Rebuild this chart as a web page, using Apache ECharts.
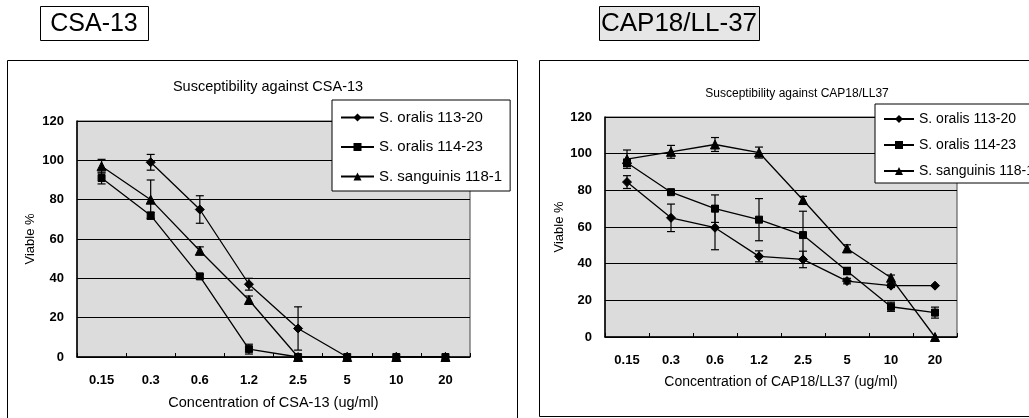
<!DOCTYPE html>
<html>
<head>
<meta charset="utf-8">
<script src="https://cdn.jsdelivr.net/npm/echarts@6/dist/echarts.min.js"></script>
<style>
html,body{margin:0;padding:0;background:#fff;}
#c{width:1029px;height:418px;}
</style>
</head>
<body>
<div id="c"></div>
<script>
// ---- data ----
const categories = ['0.15', '0.3', '0.6', '1.2', '2.5', '5', '10', '20'];
const seriesNames = ['S. oralis 113-20', 'S. oralis 114-23', 'S. sanguinis 118-1'];

// CSA-13 panel (viable %)
const csa_113_20 = [null, 99, 75, 37, 14.5, 0, 0, 0];
const csa_114_23 = [91, 72, 41, 4, 0, 0, 0, 0];
const csa_118_1  = [97, 80, 54, 29, 0, 0, 0, 0];
const csa_113_20_err = [null, 4, 7, 3, 11, 0, 0, 0];
const csa_114_23_err = [3, 1.5, 1, 2.5, 0, 0, 0, 0];
const csa_118_1_err  = [3.5, 10, 2, 2, 0, 0, 0, 0];

// CAP18/LL37 panel (viable %)
const cap_113_20 = [84.5, 65, 59.6, 44, 42.3, 30.5, 28, 28];
const cap_114_23 = [95, 79, 70, 64, 55.6, 36, 16.5, 13.3];
const cap_118_1  = [97, 101, 105, 100.6, 74.7, 48.3, 32.3, 0];
const cap_113_20_err = [3.5, 7.5, 12, 3, 4.5, 1.5, 1, 0];
const cap_114_23_err = [2, 1, 7.5, 11.5, 13, 2, 2.5, 3];
const cap_118_1_err  = [5, 3.5, 3.8, 3, 2, 2, 1.5, 0];

const yTicks = [0, 20, 40, 60, 80, 100, 120];

// ---- chart ----
const FONT = 'Liberation Sans, Arial, sans-serif';
const symbols = ['diamond', 'rect', 'triangle'];
const symbolSizes = [9, 7, 9];

function lineSeries(name, idx, data, gi) {
  return {
    type: 'line', name: name, xAxisIndex: gi, yAxisIndex: gi,
    data: data, symbol: symbols[idx], symbolSize: symbolSizes[idx],
    showSymbol: true, connectNulls: false, animation: false,
    lineStyle: { color: '#000', width: 1.3 },
    itemStyle: { color: '#000', borderColor: '#000' },
    z: 3
  };
}
function errSeries(vals, errs, gi) {
  const d = vals.map((v, i) => [i, v, errs[i]]);
  return {
    type: 'custom', xAxisIndex: gi, yAxisIndex: gi, animation: false, silent: true,
    data: d, encode: { x: 0, y: 1 }, z: 2,
    renderItem: function (params, api) {
      const v = api.value(1), e = api.value(2);
      if (v == null || isNaN(v) || !e) return null;
      const i = api.value(0);
      const top = api.coord([i, v + e]);
      const bot = api.coord([i, v - e]);
      const hw = 4;
      const st = { stroke: '#000', lineWidth: 1.2 };
      return {
        type: 'group', children: [
          { type: 'line', shape: { x1: top[0], y1: top[1], x2: bot[0], y2: bot[1] }, style: st },
          { type: 'line', shape: { x1: top[0] - hw, y1: top[1], x2: top[0] + hw, y2: top[1] }, style: st },
          { type: 'line', shape: { x1: bot[0] - hw, y1: bot[1], x2: bot[0] + hw, y2: bot[1] }, style: st }
        ]
      };
    }
  };
}

function xAxis(gi, name) {
  return {
    type: 'category', gridIndex: gi, data: categories, boundaryGap: true,
    axisLine: { show: true, lineStyle: { color: '#000', width: 1.5 } },
    axisTick: { show: true, inside: true, length: 4, lineStyle: { color: '#000' } },
    axisLabel: { color: '#000', fontSize: 13, fontWeight: 'bold', margin: 17, fontFamily: FONT },
    splitLine: { show: false },
    name: name, nameLocation: 'middle', nameGap: 38,
    nameTextStyle: { color: '#000', fontSize: gi === 0 ? 14.5 : 14, fontFamily: FONT }
  };
}
function yAxis(gi, gap) {
  return {
    type: 'value', gridIndex: gi, min: yTicks[0], max: yTicks[yTicks.length - 1], interval: yTicks[1] - yTicks[0],
    axisLine: { show: true, lineStyle: { color: '#000', width: 1.5 } },
    axisTick: { show: false },
    axisLabel: { color: '#000', fontSize: 13, fontWeight: 'bold', margin: 13, fontFamily: FONT },
    splitLine: { show: true, lineStyle: { color: '#000', width: 1.2 } },
    name: 'Viable %', nameLocation: 'middle', nameGap: gap,
    nameTextStyle: { color: '#000', fontSize: 13, fontFamily: FONT }
  };
}

const option = {
  animation: false,
  backgroundColor: '#fff',
  textStyle: { fontFamily: FONT },
  title: [
    { text: 'Susceptibility against CSA-13', left: 263, top: 74, textAlign: 'center',
      textStyle: { fontSize: 14.5, fontWeight: 'normal', color: '#000', fontFamily: FONT } },
    { text: 'Susceptibility against CAP18/LL37', left: 792, top: 83, textAlign: 'center',
      textStyle: { fontSize: 12, fontWeight: 'normal', color: '#000', fontFamily: FONT } }
  ],
  grid: [
    { left: 77, top: 121, width: 393, height: 236, show: true, backgroundColor: '#dcdcdc', borderColor: '#444', borderWidth: 1 },
    { left: 605, top: 117, width: 352, height: 220, show: true, backgroundColor: '#dcdcdc', borderColor: '#444', borderWidth: 1 }
  ],
  xAxis: [xAxis(0, 'Concentration of CSA-13 (ug/ml)'), xAxis(1, 'Concentration of CAP18/LL37 (ug/ml)')],
  yAxis: [yAxis(0, 40), yAxis(1, 39)],
  legend: [
    { data: seriesNames, orient: 'vertical', left: 332, top: 100, padding: [10, 8, 7, 8], itemGap: 14.5,
      itemWidth: 33, itemHeight: 10, backgroundColor: '#fff', borderColor: '#000', borderWidth: 1,
      textStyle: { color: '#000', fontSize: 15, fontFamily: FONT }, selectedMode: false },
    { data: seriesNames, orient: 'vertical', left: 875, top: 104, padding: [8, 8, 5, 8], itemGap: 12,
      itemWidth: 30, itemHeight: 10, backgroundColor: '#fff', borderColor: '#000', borderWidth: 1,
      textStyle: { color: '#000', fontSize: 14, fontFamily: FONT }, selectedMode: false }
  ],
  graphic: [
    { type: 'rect', shape: { x: 7.5, y: 60.5, width: 510, height: 380 }, style: { fill: 'none', stroke: '#000', lineWidth: 1 }, silent: true, z: -10 },
    { type: 'rect', shape: { x: 539.5, y: 60.5, width: 520, height: 356 }, style: { fill: 'none', stroke: '#000', lineWidth: 1 }, silent: true, z: -10 },
    { type: 'rect', shape: { x: 40.5, y: 6.5, width: 108, height: 34 }, style: { fill: '#fff', stroke: '#000', lineWidth: 1 }, silent: true },
    { type: 'text', x: 94, y: 24, style: { text: 'CSA-13', fill: '#000', font: '25px ' + FONT, textAlign: 'center', textVerticalAlign: 'middle' }, silent: true },
    { type: 'rect', shape: { x: 599.5, y: 6.5, width: 160, height: 34 }, style: { fill: '#e6e6e6', stroke: '#000', lineWidth: 1 }, silent: true },
    { type: 'text', x: 679, y: 24, style: { text: 'CAP18/LL-37', fill: '#000', font: '26px ' + FONT, textAlign: 'center', textVerticalAlign: 'middle' }, silent: true }
  ],
  series: [
    errSeries(csa_113_20, csa_113_20_err, 0),
    errSeries(csa_114_23, csa_114_23_err, 0),
    errSeries(csa_118_1, csa_118_1_err, 0),
    lineSeries(seriesNames[0], 0, csa_113_20, 0),
    lineSeries(seriesNames[1], 1, csa_114_23, 0),
    lineSeries(seriesNames[2], 2, csa_118_1, 0),
    errSeries(cap_113_20, cap_113_20_err, 1),
    errSeries(cap_114_23, cap_114_23_err, 1),
    errSeries(cap_118_1, cap_118_1_err, 1),
    lineSeries(seriesNames[0], 0, cap_113_20, 1),
    lineSeries(seriesNames[1], 1, cap_114_23, 1),
    lineSeries(seriesNames[2], 2, cap_118_1, 1)
  ]
};

const chart = echarts.init(document.getElementById('c'), null, { renderer: 'canvas' });
chart.setOption(option);
</script>
</body>
</html>
